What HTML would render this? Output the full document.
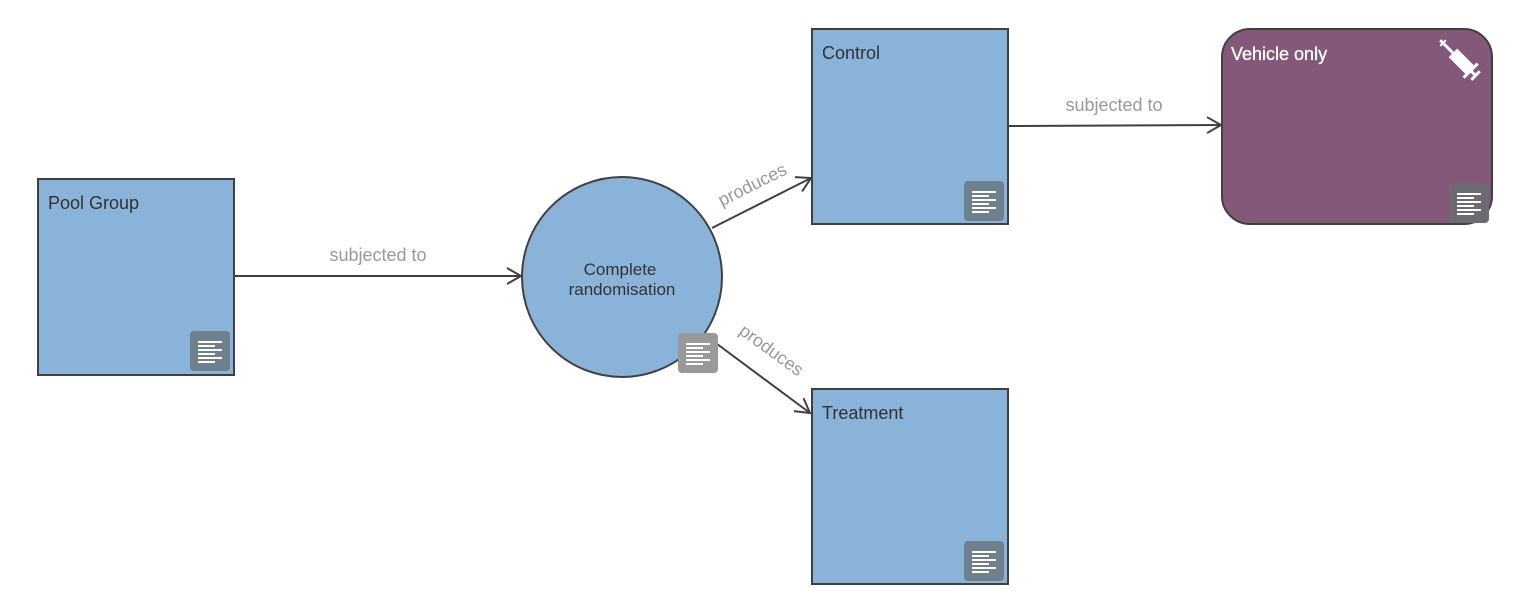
<!DOCTYPE html>
<html><head><style>body{margin:0;background:#fff}svg{display:block}text{font-family:"Liberation Sans",Arial,sans-serif}</style></head><body>
<svg width="1522" height="608" viewBox="0 0 1522 608">
<defs><marker id="a" markerWidth="18" markerHeight="20" refX="16" refY="10" orient="auto" markerUnits="userSpaceOnUse"><path d="M2,2 L16,10 L2,18" fill="none" stroke="#404040" stroke-width="2"/></marker>
<g id="n"><rect width="40" height="40" rx="4"/><g stroke="#fff" stroke-width="2"><line x1="8" y1="11" x2="32" y2="11"/><line x1="8" y1="15" x2="25" y2="15"/><line x1="8" y1="19" x2="32" y2="19"/><line x1="8" y1="23" x2="25" y2="23"/><line x1="8" y1="27" x2="32" y2="27"/><line x1="8" y1="31" x2="25" y2="31"/></g></g></defs>
<g stroke="#404040" stroke-width="2" fill="none" marker-end="url(#a)">
<line x1="234" y1="276" x2="521" y2="276"/>
<line x1="712" y1="228" x2="811" y2="178"/>
<line x1="705" y1="335" x2="810" y2="413"/>
<line x1="1008" y1="126" x2="1221" y2="125"/>
</g>
<g fill="#8ab3d9" stroke="#404040" stroke-width="2">
<rect x="38" y="179" width="196" height="196"/>
<rect x="812" y="29" width="196" height="195"/>
<rect x="812" y="389" width="196" height="195"/>
<circle cx="622" cy="277" r="100"/>
</g>
<rect x="1222" y="29" width="270" height="195" rx="28" fill="#835878" stroke="#404040" stroke-width="2"/>
<g fill="#333" font-size="18">
<text x="48" y="209">Pool Group</text>
<text x="822" y="59">Control</text>
<text x="822" y="419">Treatment</text>
<text x="620" y="275" text-anchor="middle" font-size="17">Complete</text>
<text x="622" y="295" text-anchor="middle" font-size="17">randomisation</text>
</g>
<text x="1231" y="60" fill="#fff" font-size="18" stroke="#fff" stroke-width="0.3">Vehicle only</text>
<g fill="#999" font-size="18">
<text x="378" y="261" text-anchor="middle">subjected to</text>
<text x="1114" y="111" text-anchor="middle">subjected to</text>
<text transform="translate(755,190) rotate(-26.6)" text-anchor="middle">produces</text>
<text transform="translate(768,355) rotate(36)" text-anchor="middle">produces</text>
</g>
<use href="#n" x="190" y="331" fill="#6e7f8e"/>
<use href="#n" x="964" y="181" fill="#6e7f8e"/>
<use href="#n" x="964" y="541" fill="#6e7f8e"/>
<use href="#n" x="678" y="333" fill="#999"/>
<use href="#n" x="1449" y="183" fill="#6d6a74"/>
<g transform="translate(1460,60) rotate(-45)" fill="#fff" stroke="#fff">
<rect x="-6" y="-10" width="12" height="24" stroke="none"/>
<line x1="0" y1="-10" x2="0" y2="-28" stroke-width="3"/>
<line x1="-4" y1="-24" x2="4" y2="-24" stroke-width="2"/>
<line x1="-10" y1="15" x2="10" y2="15" stroke-width="3"/>
<line x1="0" y1="15" x2="0" y2="22" stroke-width="3"/>
<line x1="-6" y1="22" x2="6" y2="22" stroke-width="3"/>
</g>
</svg></body></html>
